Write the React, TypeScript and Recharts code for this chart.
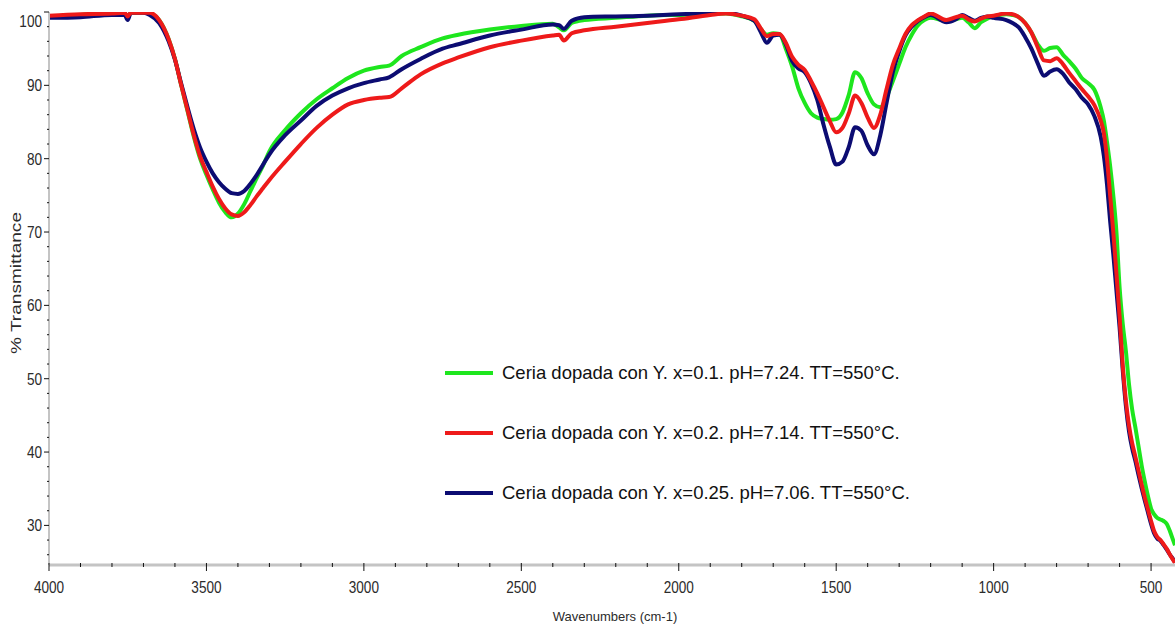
import { Line, LineChart, XAxis, YAxis } from "recharts";

// IR spectra, wavenumber grid (cm-1), high to low
const WAVENUMBERS = [
  4000, 3900, 3800, 3760, 3750, 3740, 3700, 3680, 3650, 3620,
  3600, 3580, 3560, 3540, 3520, 3500, 3480, 3460, 3440, 3420,
  3400, 3380, 3360, 3340, 3320, 3300, 3250, 3200, 3150, 3100,
  3050, 3000, 2950, 2920, 2880, 2820, 2750, 2700, 2600, 2500,
  2400, 2380, 2365, 2340, 2300, 2200, 2100, 2000, 1900, 1850,
  1800, 1760, 1740, 1720, 1700, 1680, 1660, 1640, 1620, 1600,
  1580, 1560, 1540, 1520, 1500, 1480, 1460, 1440, 1420, 1400,
  1380, 1360, 1340, 1320, 1300, 1280, 1260, 1240, 1220, 1200,
  1150, 1120, 1100, 1080, 1060, 1040, 1020, 1000, 960, 940,
  920, 900, 880, 860, 840, 820, 800, 780, 760, 740,
  720, 700, 680, 660, 650, 640, 630, 620, 610, 600,
  590, 580, 570, 560, 550, 540, 530, 520, 510, 500,
  490, 480, 470, 460, 450, 440, 430, 424,
];

// % transmittance, x = 0.1
const T_X010 = [
  99.4, 99.6, 99.8, 99.8, 99.3, 99.9, 99.9, 99.8, 98.9, 96.3,
  93.6, 90.0, 86.5, 83.0, 80.0, 77.8, 75.8, 74.0, 72.7, 72.0,
  72.5, 73.8, 75.6, 77.4, 79.1, 81.0, 83.9, 86.2, 88.1, 89.6,
  91.0, 92.0, 92.5, 92.7, 94.0, 95.2, 96.4, 96.9, 97.6, 98.1,
  98.4, 97.9, 97.5, 98.5, 98.9, 99.2, 99.5, 99.6, 99.7, 99.8,
  99.4, 98.8, 97.7, 96.9, 97.1, 97.0, 95.0, 92.6, 89.6, 87.6,
  86.2, 85.6, 85.4, 85.3, 85.4, 86.3, 88.7, 91.8, 91.0, 88.9,
  87.4, 87.0, 88.4, 90.6, 92.9, 95.2, 96.9, 98.2, 98.9, 99.2,
  98.8, 99.0, 99.2, 98.6, 97.8, 98.6, 99.1, 99.4, 99.7, 99.6,
  99.3, 98.5, 97.2, 95.6, 94.7, 95.1, 95.2, 94.2, 93.3, 92.3,
  91.0, 90.3, 89.4, 87.0, 85.2, 82.3, 79.0, 75.0, 70.0, 62.5,
  57.5, 53.8, 49.2, 45.8, 43.4, 40.8, 38.2, 36.0, 34.0, 32.3,
  31.5, 31.0, 30.8, 30.6, 30.2, 29.2, 28.0, 27.3,
];

// % transmittance, x = 0.2
const T_X020 = [
  99.5, 99.7, 99.8, 99.9, 99.4, 99.9, 99.9, 99.9, 98.9, 96.3,
  93.6, 90.0, 86.6, 83.2, 80.3, 78.2, 76.2, 74.5, 73.2, 72.4,
  72.2, 72.7, 73.7, 74.9, 76.0, 77.1, 79.6, 82.0, 84.2, 86.0,
  87.4, 88.0, 88.3, 88.4, 89.6, 91.5, 93.0, 93.8, 95.2, 96.1,
  96.8, 96.9, 96.1, 97.1, 97.5, 98.0, 98.5, 99.0, 99.6, 99.8,
  99.5, 99.0, 97.8, 96.7, 97.0, 97.0, 95.8, 93.9, 92.8, 92.1,
  90.6, 88.9, 87.0, 85.1, 83.6, 84.2, 86.2, 88.6, 87.6, 85.6,
  84.2, 86.0, 89.5, 92.8, 95.0, 97.0, 98.2, 98.9, 99.4, 99.8,
  98.9, 99.3, 99.5, 99.0, 98.7, 99.1, 99.4, 99.5, 99.8, 99.7,
  99.3, 98.5, 97.2, 95.2, 93.4, 93.3, 93.7, 92.9, 91.7, 90.6,
  89.5, 88.5, 87.3, 85.2, 83.5, 80.0, 75.0, 70.0, 64.3, 58.5,
  51.8, 47.0, 43.6, 41.2, 39.4, 37.5, 35.6, 33.8, 32.2, 30.6,
  29.2, 28.4, 28.0, 27.4, 26.8, 26.0, 25.3, 24.9,
];

// % transmittance, x = 0.25
const T_X025 = [
  99.2, 99.3, 99.6, 99.6, 98.9, 99.9, 99.9, 99.6, 98.5, 96.0,
  93.5, 90.2, 87.0, 84.0, 81.5, 79.6, 78.0, 76.8, 75.9, 75.3,
  75.2, 75.6, 76.6, 77.8, 79.2, 80.6, 83.2, 85.2, 87.2, 88.6,
  89.6, 90.3, 90.8, 91.1, 92.2, 93.6, 95.0, 95.6, 96.8, 97.6,
  98.3, 98.2, 97.7, 98.8, 99.3, 99.4, 99.5, 99.7, 99.8, 99.9,
  99.5, 98.8, 97.3, 95.8, 96.8, 96.9, 95.6, 93.3, 92.3, 91.8,
  90.3, 88.0, 84.6, 81.6, 79.2, 79.6, 81.6, 84.3, 83.8, 81.8,
  80.6, 83.2, 87.6, 91.8, 94.6, 96.8, 98.0, 98.8, 99.3, 99.6,
  98.6, 99.0, 99.6, 99.2, 98.8, 99.2, 99.4, 99.2, 98.9, 98.5,
  97.9, 96.6, 95.0, 93.0, 91.3, 91.9, 92.2, 91.6, 90.4, 89.5,
  88.3, 87.4, 85.8, 83.0, 80.4, 76.5, 71.5, 67.0, 62.0, 57.0,
  51.2, 46.3, 42.8, 40.5, 38.8, 36.9, 35.1, 33.4, 31.8, 30.2,
  28.9, 28.2, 27.9, 27.3, 26.7, 26.0, 25.4, 25.0,
];

const SERIES_NAMES = [
  "Ceria dopada con Y. x=0.1. pH=7.24. TT=550°C.",
  "Ceria dopada con Y. x=0.2. pH=7.14. TT=550°C.",
  "Ceria dopada con Y. x=0.25. pH=7.06. TT=550°C.",
];

const X_TICKS = Array.from({ length: 36 }, (_, i) => 4000 - i * 100);
const Y_TICKS = Array.from({ length: 38 }, (_, i) => 26 + i * 2);

const GREEN = "#1ee61e";
const RED = "#ee1a1a";
const NAVY = "#0c0c72";
const SERIES_COLORS = [GREEN, RED, NAVY];
const AXIS_GRAY = "#c4c4c4";
const TEXT = "#2b2b2b";
const FONT = "'Liberation Sans', Arial, sans-serif";

const data = WAVENUMBERS.map((wn, i) => ({
  wn,
  g: T_X010[i],
  r: T_X020[i],
  b: T_X025[i],
}));

// condensed tick labels
function TickText({ x, y, anchor, children }: any) {
  return (
    <text
      transform={`translate(${x} ${y}) scale(0.8 1)`}
      textAnchor={anchor}
      fontSize={17}
      fontFamily={FONT}
      fill={TEXT}
    >
      {children}
    </text>
  );
}

function XTick({ x, y, payload }: any) {
  const major = payload.value % 500 === 0;
  return (
    <g>
      <line x1={x} x2={x} y1={y - 2} y2={y + (major ? 6 : 2)} stroke="#111" strokeWidth={1} />
      {major && (
        <TickText x={x} y={y + 28} anchor="middle">
          {payload.value}
        </TickText>
      )}
    </g>
  );
}

function YTick({ x, y, payload }: any) {
  const major = payload.value % 10 === 0;
  // the top label sits a little below its tick
  const dy = payload.value === 100 ? 9 : 0;
  return (
    <g>
      <line x1={x - (major ? 5 : 2)} x2={x} y1={y} y2={y} stroke="#111" strokeWidth={1} />
      {major && (
        <TickText x={x - 7} y={y + dy + 6} anchor="end">
          {payload.value}
        </TickText>
      )}
    </g>
  );
}

function SeriesLegend() {
  return (
    <div style={{ position: "absolute", left: 445, top: 343 }}>
      {SERIES_NAMES.map((name, i) => (
        <div key={name} style={{ display: "flex", alignItems: "center", height: 60 }}>
          <div style={{ width: 48, height: 4, background: SERIES_COLORS[i], marginRight: 9 }} />
          <span style={{ fontFamily: FONT, fontSize: 18.5, color: "#111", whiteSpace: "nowrap" }}>
            {name}
          </span>
        </div>
      ))}
    </div>
  );
}

export default function App() {
  return (
    <div style={{ position: "absolute", left: 0, top: 0, width: 1175, height: 624, background: "#fff" }}>
      <LineChart width={1175} height={624} data={data} margin={{ top: 12, right: 0, bottom: 0, left: 0 }}>
        <XAxis
          dataKey="wn"
          type="number"
          domain={[424, 4000]}
          reversed
          allowDataOverflow
          ticks={X_TICKS}
          interval={0}
          height={59}
          tickSize={0}
          tickMargin={0}
          tickLine={false}
          tick={<XTick />}
          axisLine={{ stroke: AXIS_GRAY, strokeWidth: 3 }}
          label={{
            content: () => (
              <text x={615} y={621} textAnchor="middle" fontSize={13} fontFamily={FONT} fill={TEXT}>
                Wavenumbers (cm-1)
              </text>
            ),
          }}
        />
        <YAxis
          type="number"
          domain={[24.6, 100]}
          allowDataOverflow
          ticks={Y_TICKS}
          interval={0}
          width={49}
          tickSize={0}
          tickMargin={0}
          tickLine={false}
          tick={<YTick />}
          axisLine={{ stroke: AXIS_GRAY, strokeWidth: 2 }}
          label={{
            content: () => (
              <text
                x={15}
                y={283}
                transform="rotate(-90 15 283)"
                textAnchor="middle"
                dominantBaseline="central"
                fontSize={15}
                textLength={142}
                lengthAdjust="spacingAndGlyphs"
                fontFamily={FONT}
                fill={TEXT}
              >
                % Transmittance
              </text>
            ),
          }}
        />
        <Line
          dataKey="g"
          name={SERIES_NAMES[0]}
          stroke={GREEN}
          strokeWidth={4}
          dot={false}
          type="monotone"
          isAnimationActive={false}
        />
        <Line
          dataKey="b"
          name={SERIES_NAMES[2]}
          stroke={NAVY}
          strokeWidth={4}
          dot={false}
          type="monotone"
          isAnimationActive={false}
        />
        <Line
          dataKey="r"
          name={SERIES_NAMES[1]}
          stroke={RED}
          strokeWidth={4}
          dot={false}
          type="monotone"
          isAnimationActive={false}
        />
      </LineChart>
      <SeriesLegend />
    </div>
  );
}
